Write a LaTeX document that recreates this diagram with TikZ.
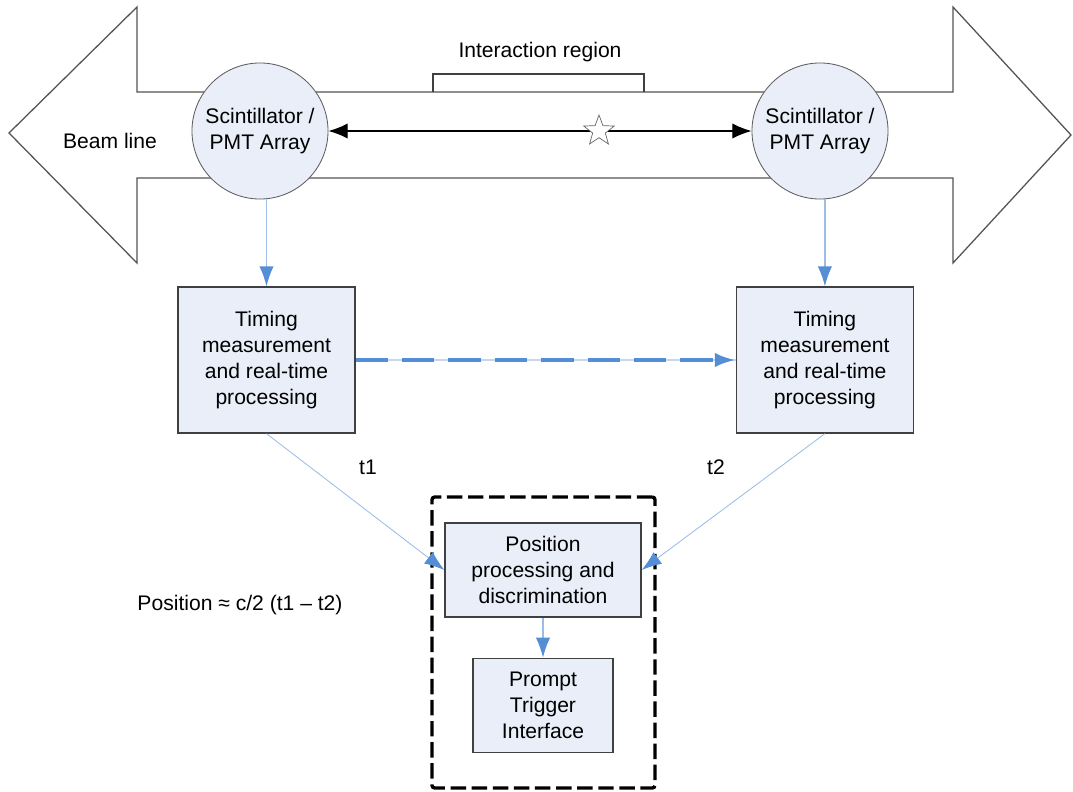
\documentclass[tikz,border=0pt]{standalone}
\usepackage{fontspec}
\setmainfont{Liberation Sans}
\usetikzlibrary{arrows.meta, positioning, shapes.geometric}
\definecolor{boxfill}{HTML}{E9EEF8}
\definecolor{edge}{HTML}{404040}
\definecolor{linkblue}{HTML}{558ED5}
\definecolor{paleblue}{HTML}{9CBCE6}
\tikzset{
  txt/.style={font=\fontsize{15}{18.5}\selectfont, align=center, inner sep=1pt},
  box/.style={
    rectangle, draw=edge, fill=boxfill, line width=0.9pt,
    txt, inner sep=2pt
  },
  detector/.style={
    circle, draw=edge!85, fill=boxfill, line width=0.6pt,
    minimum size=3.4cm, txt, inner sep=0pt
  },
  group/.style={
    rectangle, rounded corners=2pt, draw=black, line width=2.4pt,
    dash pattern=on 11pt off 4pt
  },
  beam/.style={draw=edge!90, fill=white, line width=0.9pt},
  bracket/.style={draw=edge, line width=0.9pt},
  marker/.style={star, star points=5, star point ratio=2.4, draw=edge!80,
    fill=white, line width=0.5pt, minimum size=0.8cm, inner sep=0pt},
  span/.style={{Latex[length=4.8mm,width=3.8mm]}-{Latex[length=4.8mm,width=3.8mm]},
    line width=0.9pt, draw=black},
  feed/.style={-{Latex[length=5mm,width=3.6mm,color=linkblue]}, line width=1.1pt, draw=paleblue},
  thinfeed/.style={-{Latex[length=5mm,width=3.6mm,color=linkblue]}, line width=0.6pt, draw=paleblue},
  dashfeed/.style={-{Latex[length=5.2mm,width=3.6mm]}, line width=2.8pt, draw=linkblue,
    dash pattern=on 23pt off 10pt},
  paleline/.style={line width=1.2pt, draw=paleblue!60},
}

\begin{document}
\begin{tikzpicture}[x=0.025cm, y=-0.025cm]
  \useasboundingbox (0,0) rectangle (1073,791);

  % beam line (double arrow outline)
  \draw[beam] (9,133) -- (137,7) -- (137,92) -- (953,92) -- (953,7) -- (1071,135)
    -- (953,263) -- (953,178) -- (137,178) -- (137,263) -- cycle;
  \node[txt] (beamlabel) at (110,141) {Beam line};

  % interaction region
  \draw[bracket] (433,92) -- (433,74) -- (644,74) -- (644,92);
  \node[txt] (region) at (540,52) {Interaction region};

  % detectors
  \node[detector] (scintL) at (260,131) {Scintillator /\\PMT Array};
  \node[detector] (scintR) at (820,131) {Scintillator /\\PMT Array};
  \draw[span] (scintL) -- (scintR);
  \node[marker] (vertex) at (599,131) {};

  % timing boxes
  \node[box, minimum width=4.425cm, minimum height=3.65cm] (timeL) at (266.5,360)
    {Timing\\measurement\\and real-time\\processing};
  \node[box, minimum width=4.425cm, minimum height=3.65cm, right=9.5cm of timeL] (timeR)
    {Timing\\measurement\\and real-time\\processing};

  \draw[feed] (timeL.north |- scintL.south) -- (timeL);
  \draw[feed] (timeR.north |- scintR.south) -- (timeR);
  \draw[paleline] (timeL) -- (timeR);
  \draw[dashfeed] (timeL) -- (timeR);

  % prompt trigger
  \node[box, minimum width=4.9cm, minimum height=2.35cm] (posbox) at (543,570)
    {Position\\processing and\\discrimination};
  \node[box, minimum width=3.5cm, minimum height=2.35cm, below=1cm of posbox] (trigger)
    {Prompt\\Trigger\\Interface};
  \node[group, minimum width=5.575cm, minimum height=7.275cm] (pti) at (543.5,642.5) {};
  \draw[feed] (posbox) -- (trigger);

  \draw[thinfeed] (timeL.south) -- (posbox.west);
  \draw[thinfeed] (timeR.south) -- (posbox.east);
  \node[txt] (t1) at (368,467) {t1};
  \node[txt] (t2) at (716,467) {t2};

  \node[txt] (formula) at (240,605) {Position ≈ c/2 (t1 – t2)};
\end{tikzpicture}
\end{document}
